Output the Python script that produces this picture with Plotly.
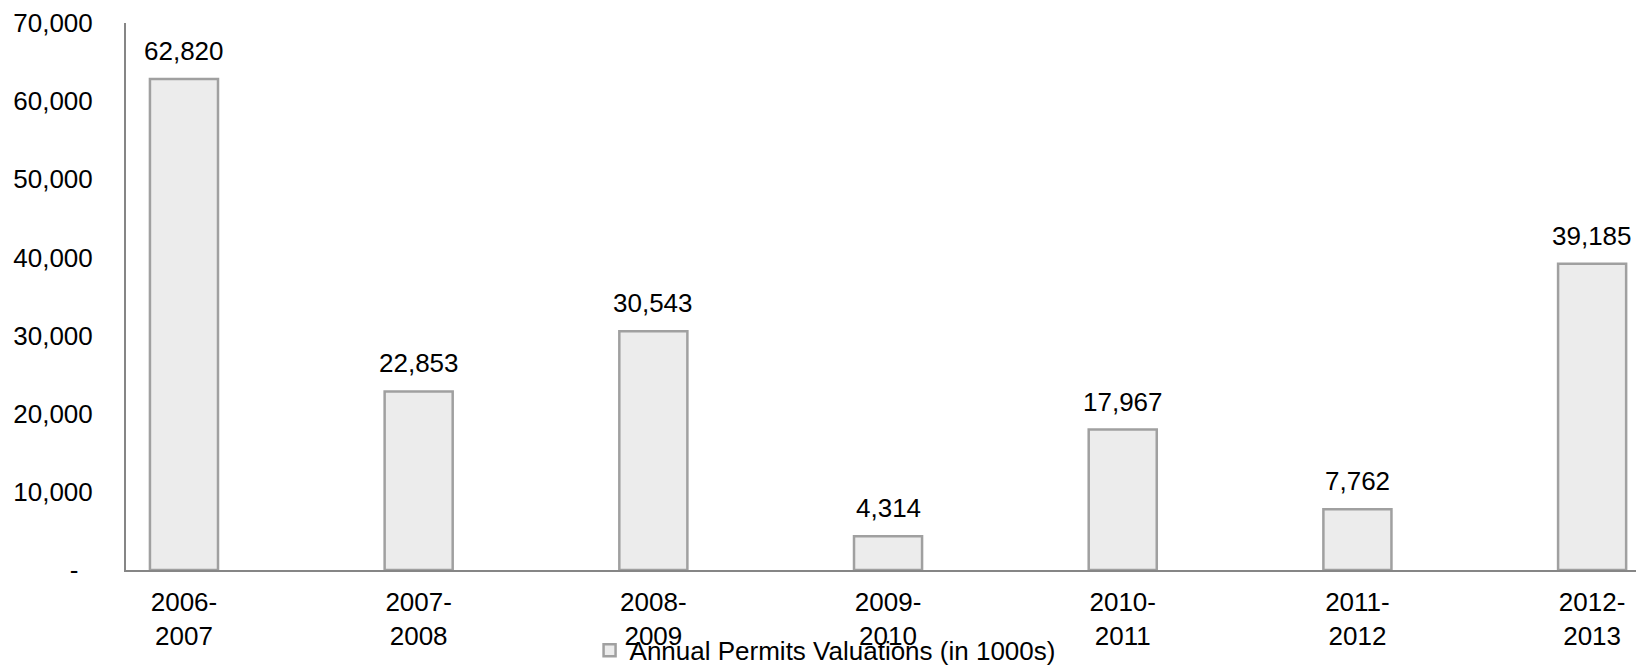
import plotly.graph_objects as go

categories = ["2006-<br>2007", "2007-<br>2008", "2008-<br>2009", "2009-<br>2010",
              "2010-<br>2011", "2011-<br>2012", "2012-<br>2013"]
values = [62820, 22853, 30543, 4314, 17967, 7762, 39185]
series_name = "Annual Permits Valuations (in 1000s)"
y_tick_values = [0, 10000, 20000, 30000, 40000, 50000, 60000, 70000]
y_tick_labels = ["-\u00a0\u00a0", "10,000", "20,000", "30,000", "40,000", "50,000", "60,000", "70,000"]

FONT = "Liberation Sans, Arial, sans-serif"
FS = 26

fig = go.Figure()
fig.add_trace(go.Bar(
    x=categories, y=values, name=series_name, width=0.29,
    marker=dict(color="#ececec", line=dict(color="#a0a0a0", width=2.5)),
    showlegend=True,
))

for c, v in zip(categories, values):
    fig.add_annotation(x=c, y=v, text=f"{v:,}", showarrow=False,
                       yanchor="bottom", yshift=11,
                       font=dict(family=FONT, size=FS, color="black"))

fig.update_layout(
    width=1636, height=665,
    margin=dict(l=126, r=0, t=23, b=95, autoexpand=False),
    paper_bgcolor="white", plot_bgcolor="white",
    font=dict(family=FONT, size=FS, color="black"),
    showlegend=True,
    legend=dict(orientation="h", x=0.307, xanchor="left", y=-0.104, yanchor="top",
                font=dict(family=FONT, size=FS, color="black"),
                bgcolor="rgba(0,0,0,0)"),
    xaxis=dict(range=[-0.247, 6.187], showline=True, linecolor="#868686", linewidth=2,
               showgrid=False, zeroline=False, ticks="", ticklabelstandoff=8,
               automargin=False,
               tickfont=dict(family=FONT, size=FS, color="black")),
    yaxis=dict(range=[0, 70000], showline=True, linecolor="#868686", linewidth=2,
               showgrid=False, zeroline=False, ticks="", automargin=False,
               tickvals=y_tick_values, ticktext=y_tick_labels, ticklabelstandoff=26,
               tickfont=dict(family=FONT, size=FS, color="black")),
)

fig.write_html("out.html", config={"displayModeBar": False},
               post_script="document.body.style.margin='0';document.body.style.overflow='hidden';")
